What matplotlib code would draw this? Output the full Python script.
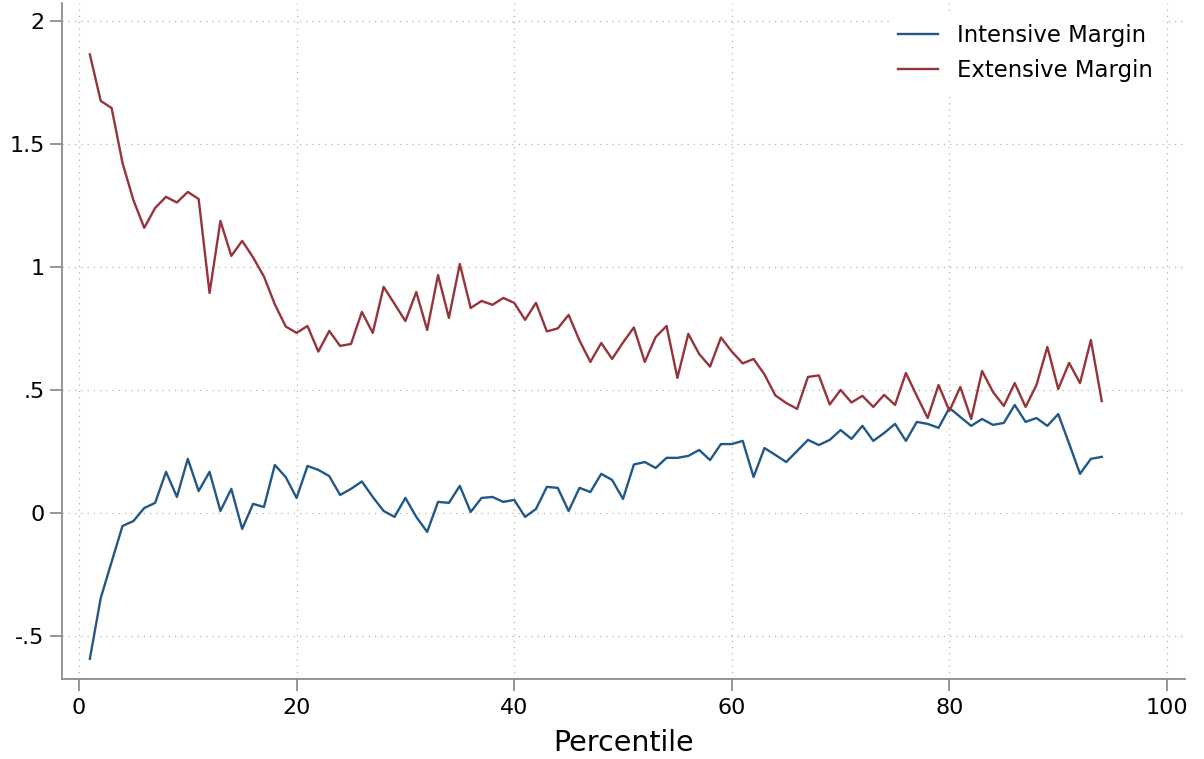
import matplotlib
matplotlib.use("Agg")
import matplotlib.pyplot as plt
import numpy as np

percentile = np.arange(1, 95)

intensive = [
    -0.593, -0.346, -0.199, -0.053, -0.033, 0.020, 0.041, 0.167, 0.065, 0.220,
    0.089, 0.167, 0.008, 0.098, -0.065, 0.037, 0.024, 0.195, 0.146, 0.061,
    0.191, 0.175, 0.150, 0.073, 0.098, 0.128, 0.065, 0.008, -0.016, 0.061,
    -0.016, -0.077, 0.045, 0.041, 0.110, 0.004, 0.061, 0.065, 0.045, 0.053,
    -0.016, 0.016, 0.106, 0.102, 0.008, 0.102, 0.085, 0.159, 0.134, 0.057,
    0.197, 0.207, 0.183, 0.224, 0.224, 0.232, 0.256, 0.215, 0.280, 0.280,
    0.293, 0.146, 0.264, 0.236, 0.207, 0.252, 0.297, 0.276, 0.297, 0.337,
    0.301, 0.354, 0.293, 0.325, 0.362, 0.293, 0.370, 0.362, 0.346, 0.427,
    0.390, 0.354, 0.382, 0.358, 0.366, 0.439, 0.370, 0.386, 0.354, 0.402,
    0.282, 0.159, 0.220, 0.228,
]

extensive = [
    1.864, 1.675, 1.646, 1.423, 1.272, 1.159, 1.240, 1.285, 1.262, 1.305,
    1.276, 0.894, 1.187, 1.045, 1.106, 1.039, 0.961, 0.848, 0.758, 0.732,
    0.760, 0.656, 0.740, 0.679, 0.687, 0.817, 0.732, 0.919, 0.850, 0.780,
    0.898, 0.744, 0.967, 0.793, 1.012, 0.833, 0.862, 0.846, 0.874, 0.854,
    0.785, 0.854, 0.738, 0.750, 0.805, 0.701, 0.614, 0.691, 0.626, 0.693,
    0.754, 0.614, 0.715, 0.760, 0.549, 0.728, 0.646, 0.595, 0.713, 0.656,
    0.608, 0.626, 0.563, 0.478, 0.447, 0.423, 0.553, 0.559, 0.441, 0.500,
    0.449, 0.476, 0.431, 0.480, 0.439, 0.569, 0.476, 0.386, 0.520, 0.415,
    0.512, 0.382, 0.577, 0.492, 0.435, 0.528, 0.431, 0.520, 0.675, 0.504,
    0.610, 0.528, 0.703, 0.455,
]

xticks = [0, 20, 40, 60, 80, 100]
yticks = [-0.5, 0, 0.5, 1, 1.5, 2]
ytick_labels = ["-.5", "0", ".5", "1", "1.5", "2"]

blue = "#225886"
maroon = "#96333b"
axis_gray = "#8c8c8c"

fig = plt.figure(figsize=(12.04, 7.59), dpi=100)
ax = fig.add_axes([62 / 1204, 1 - 679 / 759, (1185 - 62) / 1204, (679 - 3) / 759])

ax.plot(percentile, intensive, color=blue, lw=1.7, label="Intensive Margin")
ax.plot(percentile, extensive, color=maroon, lw=1.7, label="Extensive Margin")

ax.set_xlim(-1.56, 101.65)
ax.set_ylim(-0.675, 2.073)
ax.set_xticks(xticks)
ax.set_yticks(yticks)
ax.set_yticklabels(ytick_labels)

ax.grid(True, linestyle=(0, (1, 4)), color="#b4b4b4", linewidth=0.9)
ax.set_axisbelow(True)

for side in ("top", "right"):
    ax.spines[side].set_visible(False)
for side in ("left", "bottom"):
    ax.spines[side].set_color(axis_gray)
    ax.spines[side].set_linewidth(1.3)

ax.tick_params(axis="both", direction="out", length=8.5, width=1.3,
               color=axis_gray, labelsize=16, labelcolor="black")
ax.tick_params(axis="y", pad=4)
ax.tick_params(axis="x", pad=5)

ax.set_xlabel("Percentile", fontsize=20.5, labelpad=8)

leg = ax.legend(loc="upper right", bbox_to_anchor=(0.9795, 0.983),
                fontsize=16.4, frameon=True,
                facecolor="white", edgecolor="white", framealpha=1,
                handlelength=1.75, handletextpad=0.83, borderaxespad=0.0,
                labelspacing=0.55)

fig.savefig("out.png", dpi=100, facecolor="white")
